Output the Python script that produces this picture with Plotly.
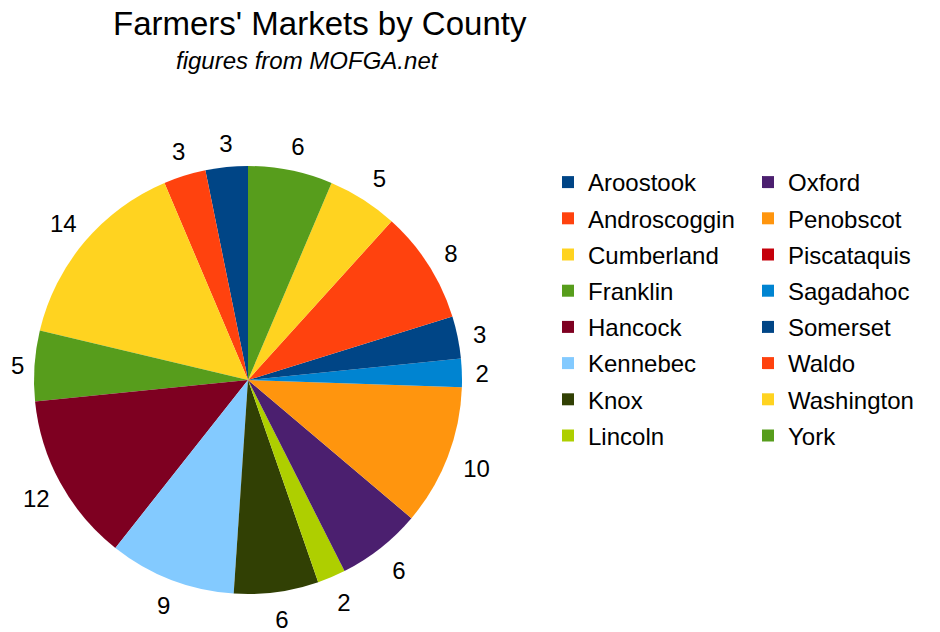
import math
import plotly.graph_objects as go

counties = ["Aroostook", "Androscoggin", "Cumberland", "Franklin", "Hancock",
            "Kennebec", "Knox", "Lincoln", "Oxford", "Penobscot", "Piscataquis",
            "Sagadahoc", "Somerset", "Waldo", "Washington", "York"]
markets = [3, 3, 14, 5, 12, 9, 6, 2, 6, 10, 0, 2, 3, 8, 5, 6]
colors = ["#004586", "#ff420e", "#ffd320", "#579d1c", "#7e0021", "#83caff",
          "#314004", "#aecf00", "#4b1f6f", "#ff950e", "#c5000b", "#0084d1",
          "#004586", "#ff420e", "#ffd320", "#579d1c"]

FONT = "Liberation Sans"
# the page body adds an 8px margin, so the figure is 8px smaller
W, H = 932, 624

total = sum(markets)
# first slice should start at 12 o'clock and run counter-clockwise
rot = -360.0 * markets[0] / total

CX, CY, R = 240, 372, 214   # pie centre / radius (figure pixels)
LAB_DX, LAB_DY = 2, -4      # small nudge of the value labels (pixels)


def dom(r):
    return dict(x=[(CX - r) / W, (CX + r) / W],
                y=[1 - (CY + r) / H, 1 - (CY - r) / H])


fig = go.Figure()
fig.add_trace(go.Pie(
    labels=counties, values=markets, textinfo="none",
    marker=dict(colors=colors, line=dict(width=0)),
    sort=False, direction="counterclockwise", rotation=rot,
    showlegend=False, hoverinfo="label+value", domain=dom(R),
))

# value labels at each slice's mid-angle, just outside the rim
# (label box kept a fixed gap from the pie); drawn on hidden axes whose
# units are pixels measured from the pie centre
lab_x, lab_y, lab_txt = [], [], []
cum = 0
for v in markets:
    if v > 0:
        th = math.radians((cum + v / 2) / total * 360.0)
        s = str(v)
        half_w = 6.8 * len(s)
        rr = R + 11 + abs(math.sin(th)) * half_w + abs(math.cos(th)) * 14
        lab_x.append(-rr * math.sin(th) + LAB_DX)
        lab_y.append(rr * math.cos(th) + LAB_DY)
        lab_txt.append(s)
    cum += v

fig.add_trace(go.Scatter(
    x=lab_x, y=lab_y, text=lab_txt, mode="text",
    textposition="middle center", cliponaxis=False,
    textfont=dict(family=FONT, size=24, color="black"),
    showlegend=False, hoverinfo="skip",
))

for i, (c, col) in enumerate(zip(counties, colors)):
    fig.add_trace(go.Scatter(
        x=[None], y=[None], mode="markers", name=c,
        marker=dict(symbol="square", size=15, color=col),
        legend="legend" if i < 8 else "legend2",
        legendgroup=c, showlegend=True,
    ))

legend_common = dict(
    font=dict(family=FONT, size=24, color="black"),
    bgcolor="rgba(0,0,0,0)", borderwidth=0,
    traceorder="grouped", tracegroupgap=2,
    yanchor="top", xanchor="left", itemsizing="constant",
)

fig.update_layout(
    width=W, height=H,
    margin=dict(l=0, r=0, t=0, b=0, pad=0, autoexpand=False),
    paper_bgcolor="white", plot_bgcolor="rgba(0,0,0,0)",
    xaxis=dict(visible=False, range=[-CX, W - CX], domain=[0, 1],
               fixedrange=True),
    yaxis=dict(visible=False, range=[CY - H, CY], domain=[0, 1],
               fixedrange=True),
    legend=dict(x=540 / W, y=1 - 152 / H, **legend_common),
    legend2=dict(x=740 / W, y=1 - 152 / H, **legend_common),
    annotations=[
        dict(text="Farmers' Markets by County", x=312 / W, y=1 - 15 / H,
             xref="paper", yref="paper", showarrow=False, borderpad=0,
             xanchor="center", yanchor="middle",
             font=dict(family=FONT, size=33, color="black")),
        dict(text="<i>figures from MOFGA.net</i>", x=299 / W, y=1 - 52 / H,
             xref="paper", yref="paper", showarrow=False, borderpad=0,
             xanchor="center", yanchor="middle",
             font=dict(family=FONT, size=24, color="black")),
    ],
)

fig.write_html("out.html")
